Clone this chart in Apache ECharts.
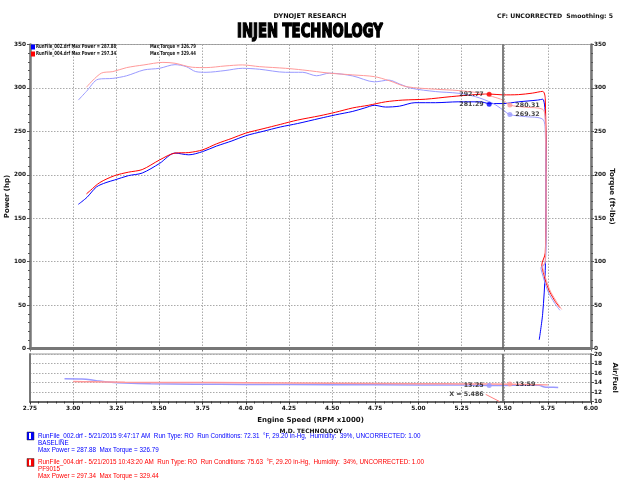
<!DOCTYPE html>
<html><head><meta charset="utf-8">
<script src="https://cdn.jsdelivr.net/npm/echarts@6/dist/echarts.min.js"></script>
<style>html,body{margin:0;padding:0;background:#fff}#c{width:620px;height:481px}</style>
</head><body><div id="c"></div>
<script>
// ---- data ----
const xTicks = [2.75, 6.00];
const cursorRpm = 5.486;

const bluePowerRpm = [3.03,3.08,3.135,3.19,3.24,3.32,3.40,3.50,3.59,3.67,3.75,3.83,3.92,4.00,4.10,4.20,4.30,4.43,4.52,4.62,4.69,4.745,4.81,4.89,4.98,5.10,5.23,5.36,5.41,5.49,5.58,5.69,5.72,5.735,5.74,5.735,5.72,5.70];
const bluePowerVal = [166,174,186,191,194,199,202,213,225,223,226.7,233,239,245,250,255,259,265,269,273,277,280,278,279,283,283,284,284,282,282,284,286,287,270,180,90,40,10];

const redPowerRpm = [3.077,3.10,3.154,3.24,3.32,3.40,3.50,3.59,3.67,3.75,3.83,3.92,4.00,4.10,4.20,4.30,4.43,4.52,4.62,4.71,4.81,4.91,5.04,5.19,5.31,5.41,5.49,5.58,5.66,5.72,5.735,5.74,5.735,5.715,5.72,5.75,5.79,5.82];
const redPowerVal = [178,182,191,199,203,206,217,225,225.6,228.7,235.6,242,248,253,258,263,268,272,277,280,284,286,287,290,292,293,292,292.3,294,296,288,190,110,96,90,70,55,47];

const blueTorqueRpm = [3.03,3.077,3.145,3.23,3.31,3.41,3.50,3.59,3.655,3.71,3.77,3.88,3.98,4.08,4.23,4.33,4.41,4.485,4.62,4.745,4.83,4.89,4.96,5.10,5.23,5.33,5.43,5.49,5.53,5.62,5.72,5.735,5.74,5.735,5.71,5.715,5.75,5.79,5.82];
const blueTorqueVal = [286,296,310,311,314,320.7,322.6,326.8,324.5,318.8,318,320,322.6,321.5,318,318,314,317,313.8,307,309,304.6,299.6,295.8,293.9,290,282.4,274.7,269.3,267,264,250,160,98,93,88,66,52,44];

const redTorqueRpm = [3.077,3.163,3.23,3.31,3.41,3.52,3.59,3.69,3.77,3.88,3.98,4.08,4.23,4.33,4.41,4.485,4.62,4.745,4.83,4.93,5.10,5.23,5.36,5.43,5.49,5.53,5.62,5.72,5.735,5.74,5.735,5.72,5.725,5.76,5.80,5.83];
const redTorqueVal = [300.8,317,318.8,323.4,326.5,329.4,328.4,323.8,323.4,325.3,326.5,324.5,322.6,320.7,318.8,317,315,313,308.4,301.5,298.5,297,294,290,286,280.3,277.8,275.5,265,170,100,94,89,68,54,45];

const blueAfrRpm = [2.95,3.05,3.10,3.15,3.22,3.30,3.45,3.70,4.00,4.50,5.00,5.30,5.43,5.55,5.70,5.73,5.76,5.81];
const blueAfrVal = [14.8,14.75,14.6,14.3,14.05,13.9,13.75,13.65,13.6,13.55,13.5,13.45,13.35,13.4,13.4,13.05,13.0,12.95];
const redAfrRpm = [3.00,3.10,3.30,3.60,4.00,4.50,5.00,5.30,5.53,5.75];
const redAfrVal = [14.2,14.15,14.05,14.0,13.95,13.85,13.75,13.7,13.65,13.5];

const cursorLeaderRpm = [5.39, 5.47];
const cursorLeaderAfr = [11.5, 10.0];

// cursor read-outs
const powerMarkRpm = [5.41, 5.41];
const powerMarkVal = [292.77, 281.29];
const torqueMarkRpm = [5.53, 5.53];
const torqueMarkVal = [280.31, 269.32];
const afrMarkRpm = [5.41, 5.53];
const afrMarkVal = [13.25, 13.59];
const afrMarkPos = [13.35, 13.7];

const runs = [
  {file:'RunFile_002.drf', maxPower:'287.88', maxTorque:'326.79', date:'5/21/2015 9:47:17 AM', temp:'72.31', baro:'29.20', hum:'39%', note:'BASELINE'},
  {file:'RunFile_004.drf', maxPower:'297.34', maxTorque:'329.44', date:'5/21/2015 10:43:20 AM', temp:'75.63', baro:'29.20', hum:'34%', note:'PF9015'}
];

// ---- build ----
const zip = (a,b)=>a.map((v,i)=>[v,b[i]]);
const FONT = 'DejaVu Sans';
const RED='#ff0000', PINK='#ff9a9a', BLUE='#0000ff', LBLUE='#9a9aff';
const axisLbl = {fontFamily:FONT, fontSize:5.8, fontWeight:'bold', color:'#111'};
const nameStyle = {fontFamily:FONT, fontSize:7, fontWeight:'bold', color:'#111'};
const dotted = {show:true, lineStyle:{color:'#aaa', type:[1.5,1.5], width:1}};

const chart = echarts.init(document.getElementById('c'), null, {renderer:'canvas'});
const lineS = (name, data, color, xi, yi, w) => ({
  name, type:'line', data, xAxisIndex:xi, yAxisIndex:yi, showSymbol:false, symbol:'none',
  smooth:0.3, lineStyle:{color, width:w||1}, itemStyle:{color}, animation:false, z:3
});
const markS = (data, color, xi, yi, labels, pos) => ({
  type:'scatter', xAxisIndex:xi, yAxisIndex:yi, symbolSize:5, z:6, animation:false,
  data: data.map((d,i)=>({value:d, label:{show:true, position:pos[i], distance:3, formatter:labels[i], fontFamily:FONT, fontSize:6.3, fontWeight:'bold', color:'#111'}, itemStyle:{color:color[i]}}))
});

const option = {
  animation:false,
  backgroundColor:'#fff',
  title:[
    {text:'DYNOJET RESEARCH', left:'center', top:8, textStyle:{fontFamily:FONT, fontSize:6.5, fontWeight:'bold', color:'#111'}},
    {text:'CF: UNCORRECTED  Smoothing: 5', right:2, top:8, textStyle:{fontFamily:FONT, fontSize:6.2, fontWeight:'bold', color:'#111'}},
    {text:'M.D. TECHNOLOGY', left:306, top:423, textAlign:'center', textStyle:{fontFamily:FONT, fontSize:6, fontWeight:'bold', color:'#111'}}
  ],
  grid:[
    {left:30, right:29, top:44.5, height:304, show:true, borderColor:'#999', borderWidth:1, containLabel:false, outerBoundsMode:'none'},
    {left:30, right:29, top:354, height:47.5, show:true, borderColor:'#999', borderWidth:1, containLabel:false, outerBoundsMode:'none'}
  ],
  xAxis:[
    {gridIndex:0, type:'value', min:xTicks[0], max:xTicks[1], interval:0.25,
     axisLabel:{show:false}, axisLine:{lineStyle:{color:'#777', width:3}}, axisTick:{show:true, length:3, lineStyle:{color:'#777'}},
     splitLine:dotted},
    {gridIndex:1, type:'value', min:xTicks[0], max:xTicks[1], interval:0.25,
     axisLabel:Object.assign({formatter:v=>v.toFixed(2), margin:4}, axisLbl),
     axisLine:{lineStyle:{color:'#666', width:2}}, axisTick:{show:true, length:3, inside:false, lineStyle:{color:'#333'}},
     minorTick:{show:true, splitNumber:5, length:2, lineStyle:{color:'#333'}},
     splitLine:dotted,
     name:'Engine Speed (RPM x1000)', nameLocation:'middle', nameGap:15, nameMoveOverlap:false,
     nameTextStyle:nameStyle}
  ],
  yAxis:[
    {gridIndex:0, type:'value', position:'left', min:0, max:350, interval:50,
     axisLabel:Object.assign({margin:4}, axisLbl), axisLine:{show:true, lineStyle:{color:'#777', width:2.5}},
     axisTick:{show:true, length:3, lineStyle:{color:'#555'}}, minorTick:{show:true, splitNumber:5, length:2, lineStyle:{color:'#555'}},
     splitLine:dotted,
     name:'Power (hp)', nameLocation:'middle', nameGap:19, nameRotate:90, nameMoveOverlap:false,
     nameTextStyle:nameStyle},
    {gridIndex:0, type:'value', position:'right', min:0, max:350, interval:50,
     axisLabel:Object.assign({margin:3}, axisLbl), axisLine:{show:true, lineStyle:{color:'#777', width:2.5}},
     axisTick:{show:true, length:3, lineStyle:{color:'#555'}}, minorTick:{show:true, splitNumber:5, length:2, lineStyle:{color:'#555'}},
     splitLine:{show:false},
     name:'Torque (ft-lbs)', nameLocation:'middle', nameGap:17, nameRotate:-90, nameMoveOverlap:false,
     nameTextStyle:nameStyle},
    {gridIndex:1, type:'value', position:'right', min:10, max:20, interval:2,
     axisLabel:Object.assign({margin:3}, axisLbl), axisLine:{show:true, lineStyle:{color:'#777', width:2}},
     axisTick:{show:true, length:3, lineStyle:{color:'#555'}},
     splitLine:dotted,
     name:'Air/Fuel', nameLocation:'middle', nameGap:20, nameRotate:-90, nameMoveOverlap:false,
     nameTextStyle:nameStyle},
    {gridIndex:1, type:'value', position:'left', min:10, max:20, interval:2,
     axisLabel:{show:false}, axisLine:{show:true, lineStyle:{color:'#777', width:2}}, axisTick:{show:false}, splitLine:{show:false}}
  ],
  series:[
    lineS('bluePower', zip(bluePowerRpm, bluePowerVal), BLUE, 0, 0),
    lineS('redPower', zip(redPowerRpm, redPowerVal), RED, 0, 0),
    lineS('blueTorque', zip(blueTorqueRpm, blueTorqueVal), LBLUE, 0, 1),
    lineS('redTorque', zip(redTorqueRpm, redTorqueVal), PINK, 0, 1),
    Object.assign(lineS('blueAfr', zip(blueAfrRpm, blueAfrVal), LBLUE, 1, 2, 1.5), {
      markLine:{symbol:'none', silent:true, label:{show:false}, lineStyle:{color:'#555', width:1.5, type:'solid'}, data:[{xAxis:cursorRpm}]}}),
    lineS('redAfr', zip(redAfrRpm, redAfrVal), PINK, 1, 2, 1.5),
    Object.assign(lineS('cursorLeader', zip(cursorLeaderRpm, cursorLeaderAfr), '#ff8080', 1, 2, 1), {smooth:false}),
    Object.assign(lineS('cursor0', [], '#555', 0, 0), {
      markLine:{symbol:'none', silent:true, label:{show:false}, lineStyle:{color:'#555', width:1.5, type:'solid'}, data:[{xAxis:cursorRpm}]}}),
    markS(zip(powerMarkRpm, powerMarkVal), [RED, BLUE], 0, 0, powerMarkVal.map(v=>v.toFixed(2)), ['left','left']),
    markS(zip(torqueMarkRpm, torqueMarkVal), [PINK, LBLUE], 0, 1, torqueMarkVal.map(v=>v.toFixed(2)), ['right','right']),
    markS(zip(afrMarkRpm, afrMarkPos), [LBLUE, PINK], 1, 2, afrMarkVal.map(v=>v.toFixed(2)), ['left','right']),
    {type:'scatter', xAxisIndex:1, yAxisIndex:2, symbolSize:0, z:6, animation:false,
     data:[{value:[cursorLeaderRpm[0], cursorLeaderAfr[0]], label:{show:true, position:'left', distance:2, formatter:'X = '+cursorRpm.toFixed(3), fontFamily:FONT, fontSize:6.3, fontWeight:'bold', color:'#111'}}]}
  ],
  graphic:[
    {type:'text', x:310, y:32, scaleX:0.66, z:10,
     style:{text:'INJEN TECHNOLOGY', align:'center', verticalAlign:'middle', fontFamily:FONT, fontSize:20, fontWeight:'bold', fill:'#000', stroke:'#000', lineWidth:1.6}}
  ]
};

// legend (top-left of plot) and footer run info
const cols=[BLUE, RED];
runs.forEach((r,i)=>{
  option.graphic.push(
    {type:'rect', shape:{x:31, y:44.5+i*7, width:4, height:5}, style:{fill:cols[i]}, z:10},
    {type:'text', x:36, y:47+i*7, scaleX:0.69, style:{x:0, y:0, text:r.file+' Max Power = '+r.maxPower, fontFamily:FONT, fontSize:5.6, fontWeight:'bold', fill:'#111', verticalAlign:'middle'}, z:10},
    {type:'text', x:150, y:47+i*7, scaleX:0.69, style:{x:0, y:0, text:'Max Torque = '+r.maxTorque, fontFamily:FONT, fontSize:5.6, fontWeight:'bold', fill:'#111', verticalAlign:'middle'}, z:10}
  );
  const y0 = 436 + i*26.5;
  option.graphic.push(
    {type:'rect', shape:{x:27, y:y0-4, width:7, height:8}, style:{fill:cols[i], stroke:'#333', lineWidth:0.5}, z:10},
    {type:'rect', shape:{x:29, y:y0-3, width:2, height:6}, style:{fill:'#fff'}, z:11},
    {type:'text', style:{x:38, y:y0, text:r.file+' - '+r.date+'  Run Type: RO  Run Conditions: '+r.temp+'  \u00B0F, '+r.baro+' in-Hg,  Humidity:  '+r.hum+', UNCORRECTED: 1.00',
      fontFamily:'Liberation Sans', fontSize:6.3, fill:cols[i], verticalAlign:'middle'}, z:10},
    {type:'text', style:{x:38, y:y0+7, text:r.note, fontFamily:'Liberation Sans', fontSize:6.3, fill:cols[i], verticalAlign:'middle'}, z:10},
    {type:'text', style:{x:38, y:y0+14, text:'Max Power = '+r.maxPower+'  Max Torque = '+r.maxTorque, fontFamily:'Liberation Sans', fontSize:6.3, fill:cols[i], verticalAlign:'middle'}, z:10}
  );
});

chart.setOption(option);
</script>
</body></html>
